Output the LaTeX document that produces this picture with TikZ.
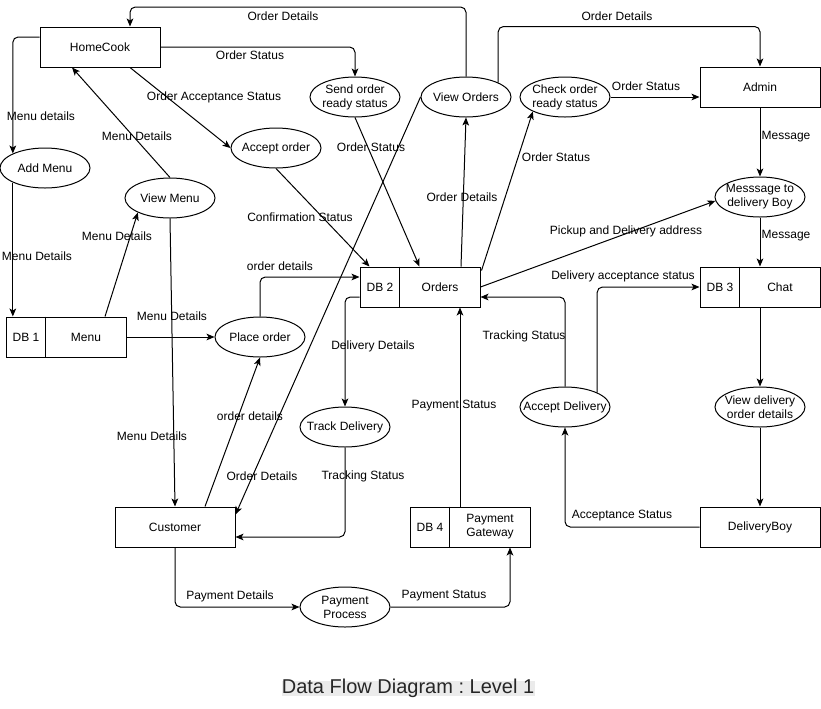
\documentclass[tikz,border=0pt]{standalone}
\usepackage{fontspec}
\setmainfont{Liberation Sans}
\usetikzlibrary{shapes.geometric,arrows.meta,calc}
\begin{document}
\begin{tikzpicture}[x=0.75pt,y=-0.75pt,
  font=\fontsize{9}{10.5}\selectfont,
  every label/.style={font=\fontsize{9}{10.5}\selectfont, align=center, inner sep=0},
  proc/.style={ellipse,draw,line width=0.75pt,minimum width=67.5pt,minimum height=30pt,inner sep=0},
  ent/.style={rectangle,draw,line width=0.75pt,minimum width=90pt,minimum height=30pt,inner sep=0},
  flow/.style={line width=0.75pt,rounded corners=4pt,-{Stealth[length=6pt,width=5pt,inset=1.5pt]}},
  plain/.style={line width=0.75pt},
  lab/.style={inner sep=0}]
\useasboundingbox (0,0) rectangle (821,708);

% entities
\node[ent] (hc) at (100,47) {HomeCook};
\node[ent] (adm) at (760,87) {Admin};
\node[ent] (cu) at (175,527) {Customer};
\node[ent] (dboy) at (760,527) {DeliveryBoy};

% data stores
\node[ent,label={[xshift=-30pt]center:DB 1},label={[xshift=15pt]center:Menu}] (db1) at (66,337) {};
\node[ent,label={[xshift=-30pt]center:DB 2},label={[xshift=15pt]center:Orders}] (db2) at (420,287) {};
\node[ent,label={[xshift=-30pt]center:DB 3},label={[xshift=15pt]center:Chat}] (db3) at (760,287) {};
\node[ent,label={[xshift=-30pt]center:DB 4},label={[xshift=15pt]center:{Payment\\Gateway}}] (db4) at (470,527) {};
\foreach \s in {db1,db2,db3,db4}
  \draw[plain] ([xshift=30pt]\s.north west) -- ([xshift=30pt]\s.south west);

% processes
\node[proc,label=center:Add Menu] (am) at (45,168) {};
\node[proc,label=center:View Menu] (vm) at (170,198) {};
\node[proc,label=center:Accept order] (ao) at (276,148) {};
\node[proc,label={center:{Send order\\ready status}}] (sors) at (355,97) {};
\node[proc,label=center:View Orders] (vo) at (466,97) {};
\node[proc,label={center:{Check order\\ready status}}] (coc) at (565,97) {};
\node[proc,label={center:{Messsage to\\delivery Boy}}] (mdb) at (760,197) {};
\node[proc,label=center:Place order] (po) at (260,337) {};
\node[proc,label=center:Track Delivery] (td) at (345,427) {};
\node[proc,label=center:Accept Delivery] (ad) at (565,407) {};
\node[proc,label={center:{View delivery\\order details}}] (vdod) at (760,407) {};
\node[proc,label={center:{Payment\\Process}}] (pp) at (345,607) {};

% flows
\draw[flow] (vo.north) |- (130,7) -- ($(hc.north)+(30,0)$);
\draw[flow] (hc.east) -| (sors.north);
\draw[flow] ($(hc.south)+(30,0)$) -- (ao.west);
\draw[flow] ($(hc.west)+(0,-10)$) -| (am.north west);
\draw[flow] (vm.north) -- ($(hc.south)+(-28,0)$);
\draw[flow] (am.south west) -- (am.south west |- db1.north);
\draw[flow] ($(db1.north)+(39,0)$) -- (vm.south west);
\draw[flow] (db1.east) -- (po.west);
\draw[flow] (vm.south) -- (cu.north);
\draw[flow] (ao.south) -- ($(db2.north west)+(10,0)$);
\draw[flow] (sors.south) -- ($(db2.north west)+(60,0)$);
\draw[flow] ($(db2.north)+(41,0)$) -- (vo.south);
\draw[flow] ($(db2.north east)+(1,4)$) -- (coc.south west);
\draw[flow] (vo.west) -- ($(cu.north east)+(0,8)$);
\draw[flow] (vo.north east) |- ($(adm.north)+(0,-40)$) -- (adm.north);
\draw[flow] (coc.east) -- (coc.east -| adm.west);
\draw[flow] (adm.south) -- (mdb.north);
\draw[flow] (mdb.south) -- (db3.north);
\draw[flow] (db2.east) -- (mdb.185);
\draw[flow] (ad.north) |- ($(db2.east)+(0,10)$);
\draw[flow] (ad.north east) |- (db3.west);
\draw[flow] (db3.south) -- (vdod.north);
\draw[flow] (vdod.south) -- (dboy.north);
\draw[flow] (dboy.west) -| (ad.south);
\draw[flow] ($(db2.west)+(0,10)$) -| (td.north);
\draw[flow] (td.south) |- ($(cu.east)+(0,10)$);
\draw[flow] ($(cu.north)+(30,0)$) -- (po.south);
\draw[flow] (po.north) |- ($(db2.west)+(0,-10)$);
\draw[flow] ($(db4.north)+(-10,0)$) -- ($(db2.south)+(40,0)$);
\draw[flow] (cu.south) |- (pp.west);
\draw[flow] (pp.east) -| ($(db4.south)+(40,0)$);

% flow labels
\node[lab] (l1) at (283,16) {Order Details};
\node[lab] (l2) at (250,55) {Order Status};
\node[lab] (l3) at (214,97) {Order Acceptance Status};
\node[lab] (l4) at (41,116) {Menu details};
\node[lab] (l5) at (137,136) {Menu Details};
\node[lab] (l6) at (37,256) {Menu Details};
\node[lab] (l7) at (117,236) {Menu Details};
\node[lab] (l8) at (172,316) {Menu Details};
\node[lab] (l9) at (152,436) {Menu Details};
\node[lab] (l10) at (300,217) {Confirmation Status};
\node[lab] (l11) at (371,147) {Order Status};
\node[lab] (l12) at (462,197) {Order Details};
\node[lab] (l13) at (556,157) {Order Status};
\node[lab] (l14) at (617,16) {Order Details};
\node[lab] (l15) at (646,86) {Order Status};
\node[lab] (l16) at (786,137) {Message};
\node[lab] (l17) at (786,236) {Message};
\node[lab] (l18) at (626,231) {Pickup and Delivery address};
\node[lab] (l19) at (280,266) {order details};
\node[lab] (l20) at (623,276) {Delivery acceptance status};
\node[lab] (l21) at (524,336) {Tracking Status};
\node[lab] (l22) at (373,346) {Delivery Details};
\node[lab] (l23) at (454,406) {Payment Status};
\node[lab] (l24) at (250,416) {order details};
\node[lab] (l25) at (262,476) {Order Details};
\node[lab] (l26) at (363,476) {Tracking Status};
\node[lab] (l27) at (622,516) {Acceptance Status};
\node[lab] (l28) at (230,596) {Payment Details};
\node[lab] (l29) at (444,596) {Payment Status};

% title
\fill[black!8] (282,681) rectangle (535,696);
\node[lab,anchor=base,font=\fontsize{15}{18}\selectfont,text=black!85] (title) at (408,693) {\frenchspacing Data Flow Diagram : Level 1};
\end{tikzpicture}
\end{document}
